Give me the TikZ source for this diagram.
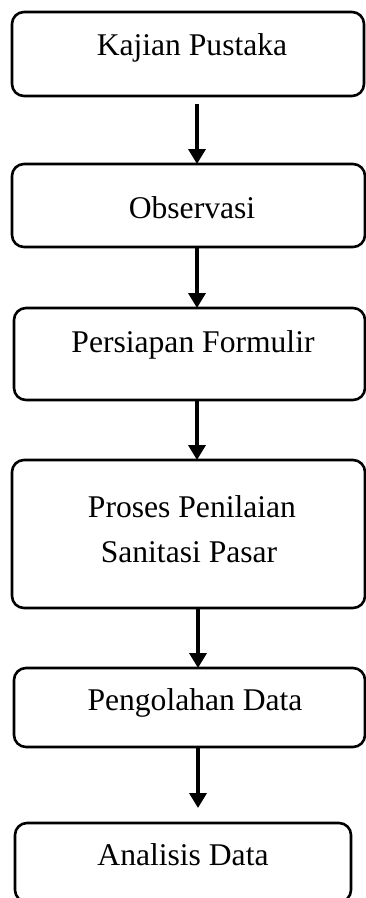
\documentclass[tikz,border=0pt]{standalone}
\usepackage{fontspec}
\setmainfont{Liberation Serif}
\usetikzlibrary{arrows.meta}
\begin{document}
\begin{tikzpicture}[x=1pt,y=-1pt,
  stepbox/.style={draw=black,line width=2.6pt,rounded corners=12pt,outer sep=0pt,inner sep=0pt,rectangle},
  txt/.style={inner sep=0pt,anchor=base,font=\fontsize{31.6}{45}\selectfont},
  arr/.style={line width=3.6pt,-{Triangle[width=17pt,length=15pt]}}]
\useasboundingbox (0,0) rectangle (366,898);
\coordinate (ax) at (197,0);
\coordinate (bx) at (198,0);
% boxes
\node[stepbox,minimum width=352pt,minimum height=84pt] (b1) at (188,54) {};
\node[stepbox,minimum width=353pt,minimum height=83pt] (b2) at (188.5,205.5) {};
\node[stepbox,minimum width=351pt,minimum height=92pt] (b3) at (189.5,354) {};
\node[stepbox,minimum width=353pt,minimum height=148pt] (b4) at (188.5,534) {};
\node[stepbox,minimum width=351pt,minimum height=79pt] (b5) at (189.5,707.5) {};
\node[stepbox,minimum width=336pt,minimum height=79pt] (b6) at (183,862.5) {};
% texts
\node[txt] (t1) at (192,55) {Kajian Pustaka};
\node[txt] (t2) at (192,218) {Observasi};
\node[txt] (t3) at (193,352) {Persiapan Formulir};
\node[txt] (t4a) at (192,517) {Proses Penilaian};
\node[txt] (t4b) at (189,562) {Sanitasi Pasar};
\node[txt] (t5) at (195,710) {Pengolahan Data};
\node[txt] (t6) at (183,865) {Analisis Data};
% arrows
\draw[arr] ([yshift=-8pt]b1.south -| ax) -- (b2.north -| ax);
\draw[arr] (b2.south -| ax) -- (b3.north -| ax);
\draw[arr] (b3.south -| ax) -- (b4.north -| ax);
\draw[arr] (b4.south -| bx) -- (b5.north -| bx);
\draw[arr] (b5.south -| bx) -- ([yshift=15pt]b6.north -| bx);
\end{tikzpicture}
\end{document}
